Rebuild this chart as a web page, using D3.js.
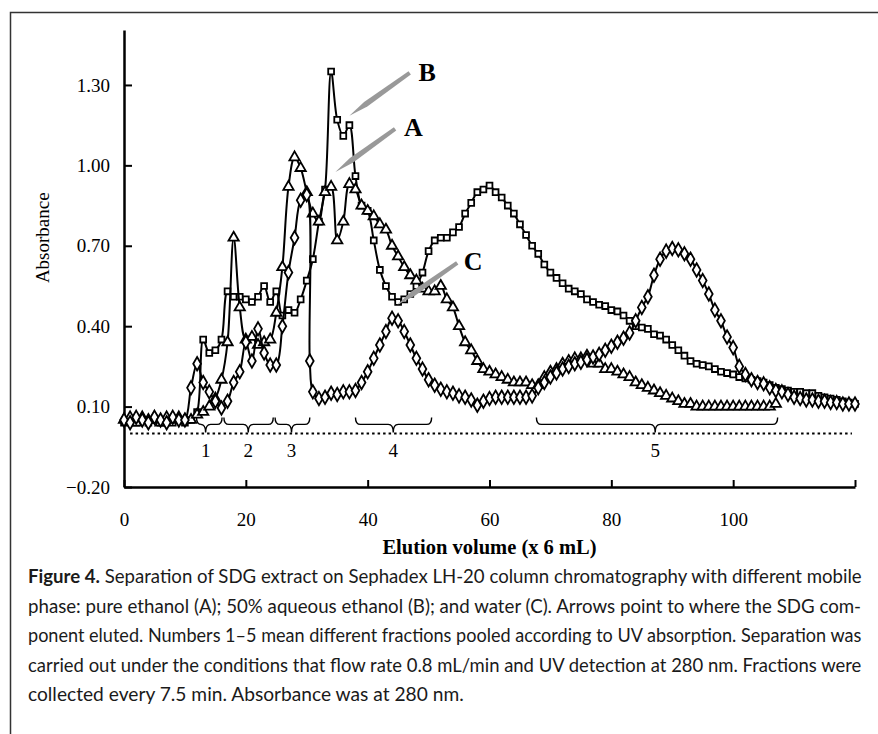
<!DOCTYPE html>
<html lang="en">
<head>
    <meta charset="UTF-8">
    <title>Figure 4 - Sephadex LH-20 elution profiles</title>
    <script src="https://d3js.org/d3.v7.min.js"></script>
    <style>
        body {
            margin: 0;
            background: #fff;
        }
        svg {
            display: block;
        }
        .axis path, .axis line {
            stroke: #000;
        }
        .axis path {
            stroke-width: 2.5;
        }
        .axis line {
            stroke-width: 2;
        }
        .axis text {
            font-family: "Liberation Serif", "Times New Roman", serif;
            font-size: 19px;
            fill: #000;
        }
        .caption {
            font-family: Lato, "Open Sans", "DejaVu Sans", sans-serif;
            font-size: 19px;
            fill: #1a1a1a;
        }
    </style>
</head>
<body>
<div id="chart"></div>
<script>
    // elution volume (x 6 mL), absorbance at 280 nm
    const seriesA = [ // pure ethanol, triangles
        [0,0.05],[1,0.06],[2,0.04],[3,0.06],[4,0.05],[5,0.06],[6,0.04],[7,0.06],[8,0.05],[9,0.06],
        [10,0.05],[11,0.05],[12,0.07],[13,0.08],[14,0.10],[15,0.13],[16,0.20],[17,0.34],[18,0.73],[19,0.47],
        [20,0.35],[21,0.36],[22,0.33],[23,0.34],[24,0.35],[25,0.45],[26,0.62],[27,0.92],[28,1.03],[29,0.99],
        [30,0.90],[31,0.82],[32,0.79],[33,0.90],[34,0.92],[35,0.72],[36,0.79],[37,0.93],[38,0.91],[39,0.85],
        [40,0.83],[41,0.81],[42,0.78],[43,0.76],[44,0.70],[45,0.66],[46,0.62],[47,0.59],[48,0.57],[49,0.54],
        [50,0.53],[51,0.53],[52,0.55],[53,0.50],[54,0.47],[55,0.40],[56,0.34],[57,0.31],[58,0.27],[59,0.24],
        [60,0.23],[61,0.22],[62,0.21],[63,0.20],[64,0.19],[65,0.19],[66,0.19],[67,0.18],[68,0.18],[69,0.21],
        [70,0.23],[71,0.24],[72,0.26],[73,0.27],[74,0.28],[75,0.28],[76,0.29],[77,0.26],[78,0.26],[79,0.24],
        [80,0.24],[81,0.23],[82,0.22],[83,0.21],[84,0.19],[85,0.18],[86,0.17],[87,0.16],[88,0.15],[89,0.14],
        [90,0.13],[91,0.12],[92,0.11],[93,0.11],[94,0.10],[95,0.10],[96,0.10],[97,0.10],[98,0.10],[99,0.10],
        [100,0.10],[101,0.10],[102,0.10],[103,0.10],[104,0.10],[105,0.10],[106,0.10],[107,0.11]
    ];
    const seriesB = [ // 50% aqueous ethanol, squares
        [0,0.04],[1,0.05],[2,0.04],[3,0.05],[4,0.04],[5,0.05],[6,0.04],[7,0.05],[8,0.04],[9,0.05],
        [10,0.04],[11,0.05],[12,0.08],[13,0.35],[14,0.30],[15,0.31],[16,0.35],[17,0.53],[18,0.51],[19,0.51],
        [20,0.50],[21,0.49],[22,0.51],[23,0.55],[24,0.49],[25,0.53],[26,0.44],[27,0.46],[28,0.45],[29,0.50],
        [30,0.57],[31,0.65],[32,0.79],[33,0.91],[34,1.35],[35,1.17],[36,1.11],[37,1.15],[38,0.96],[39,0.85],
        [40,0.83],[41,0.72],[42,0.61],[43,0.55],[44,0.51],[45,0.49],[46,0.50],[47,0.52],[48,0.55],[49,0.60],
        [50,0.68],[51,0.72],[52,0.73],[53,0.73],[54,0.75],[55,0.77],[56,0.82],[57,0.86],[58,0.90],[59,0.91],
        [60,0.925],[61,0.90],[62,0.88],[63,0.85],[64,0.82],[65,0.78],[66,0.74],[67,0.70],[68,0.67],[69,0.63],
        [70,0.60],[71,0.58],[72,0.56],[73,0.54],[74,0.53],[75,0.52],[76,0.50],[77,0.49],[78,0.48],[79,0.475],
        [80,0.46],[81,0.455],[82,0.44],[83,0.42],[84,0.40],[85,0.395],[86,0.39],[87,0.37],[88,0.365],[89,0.35],
        [90,0.33],[91,0.31],[92,0.29],[93,0.27],[94,0.26],[95,0.255],[96,0.25],[97,0.24],[98,0.23],[99,0.225],
        [100,0.22],[101,0.21],[102,0.205],[103,0.20],[104,0.195],[105,0.19],[106,0.18],[107,0.17],[108,0.165],[109,0.16],
        [110,0.155],[111,0.155],[112,0.15],[113,0.15],[114,0.14],[115,0.135],[116,0.13],[117,0.125],[118,0.12],[119,0.115],
        [120,0.11]
    ];
    const seriesC = [ // water, diamonds
        [0,0.05],[1,0.04],[2,0.06],[3,0.05],[4,0.04],[5,0.06],[6,0.05],[7,0.04],[8,0.06],[9,0.05],
        [10,0.05],[11,0.17],[12,0.26],[13,0.19],[14,0.155],[15,0.12],[16,0.095],[17,0.12],[18,0.19],[19,0.23],
        [20,0.34],[21,0.27],[22,0.39],[23,0.30],[24,0.255],[25,0.255],[26,0.40],[27,0.60],[28,0.73],[29,0.87],
        [30,0.89],[30.5,0.27],[31,0.155],[32,0.13],[33,0.135],[34,0.15],[35,0.145],[36,0.155],[37,0.155],[38,0.16],
        [39,0.19],[40,0.23],[41,0.28],[42,0.33],[43,0.38],[44,0.43],[45,0.42],[46,0.38],[47,0.33],[48,0.28],
        [49,0.24],[50,0.20],[51,0.18],[52,0.165],[53,0.155],[54,0.15],[55,0.14],[56,0.135],[57,0.125],[58,0.105],
        [59,0.12],[60,0.13],[61,0.135],[62,0.135],[63,0.135],[64,0.135],[65,0.135],[66,0.135],[67,0.14],[68,0.17],
        [69,0.19],[70,0.21],[71,0.225],[72,0.24],[73,0.25],[74,0.26],[75,0.265],[76,0.275],[77,0.285],[78,0.295],
        [79,0.31],[80,0.325],[81,0.34],[82,0.355],[83,0.375],[84,0.42],[85,0.47],[86,0.51],[87,0.59],[88,0.65],
        [89,0.68],[90,0.69],[91,0.685],[92,0.67],[93,0.65],[94,0.61],[95,0.57],[96,0.52],[97,0.46],[98,0.42],
        [99,0.36],[100,0.32],[101,0.25],[102,0.22],[103,0.20],[104,0.19],[105,0.185],[106,0.17],[107,0.16],[108,0.155],
        [109,0.145],[110,0.135],[111,0.13],[112,0.125],[113,0.125],[114,0.12],[115,0.12],[116,0.115],[117,0.115],[118,0.11],
        [119,0.11],[120,0.11]
    ];

    const xTicks = [0, 20, 40, 60, 80, 100, 120];
    const yTicks = [-0.20, 0.10, 0.40, 0.70, 1.00, 1.30];

    // pooled fractions: [start, end, label position, label]
    const fractions = [
        [11.9, 16.1, 13.4, "1"],
        [16.4, 24.5, 20.4, "2"],
        [24.8, 30.5, 27.5, "3"],
        [38.0, 50.5, 44.2, "4"],
        [67.7, 107.3, 87.2, "5"]
    ];

    // SDG arrows: label, tail [x, y], tip [x, y], label anchor [x, y]
    const arrows = [
        ["B", [46.9, 1.345], [37.0, 1.185], [49.75, 1.315]],
        ["A", [44.5, 1.136], [34.7, 0.975], [47.5, 1.11]],
        ["C", [54.7, 0.636], [44.8, 0.479], [57.3, 0.61]]
    ];

    const captionLines = [
        " Separation of SDG extract on Sephadex LH-20 column chromatography with different mobile",
        "phase: pure ethanol (A); 50% aqueous ethanol (B); and water (C). Arrows point to where the SDG com-",
        "ponent eluted. Numbers 1\u20135 mean different fractions pooled according to UV absorption. Separation was",
        "carried out under the conditions that flow rate 0.8 mL/min and UV detection at 280 nm. Fractions were",
        "collected every 7.5 min. Absorbance was at 280 nm."
    ];
    const captionWidths = [834, 834, 834, 834, 436];

    const W = 878, H = 734;
    const svg = d3.select("#chart").append("svg")
        .attr("width", W)
        .attr("height", H);

    // figure frame (left and top rules)
    svg.append("path")
        .attr("d", `M10.5,${H}V12.5H${W}`)
        .attr("fill", "none")
        .attr("stroke", "#333")
        .attr("stroke-width", 1.5);

    const x = d3.scaleLinear().domain([0, 120]).range([124, 855]);
    const y = d3.scaleLinear().domain([-0.2, 1.505]).range([487, 30]);

    // axes
    svg.append("g")
        .attr("class", "axis")
        .attr("transform", `translate(0,${y(-0.2)})`)
        .call(d3.axisBottom(x)
            .tickValues(xTicks)
            .tickSizeInner(-7)
            .tickSizeOuter(0)
            .tickPadding(26)
            .tickFormat(d => d <= 100 ? d : ""));

    svg.append("g")
        .attr("class", "axis")
        .attr("transform", `translate(${x(0)},0)`)
        .call(d3.axisLeft(y)
            .tickValues(yTicks)
            .tickSizeInner(-8)
            .tickSizeOuter(0)
            .tickPadding(14)
            .tickFormat(d => d3.format(".2f")(d).replace("-", "\u2212")));

    // axis titles
    svg.append("text")
        .attr("transform", `translate(49,${y(0.73)}) rotate(-90)`)
        .attr("text-anchor", "middle")
        .attr("font-family", "Liberation Serif, Times New Roman, serif")
        .attr("font-size", 19)
        .text("Absorbance");

    svg.append("text")
        .attr("x", (x(0) + x(120)) / 2)
        .attr("y", 554)
        .attr("text-anchor", "middle")
        .attr("font-family", "Liberation Serif, Times New Roman, serif")
        .attr("font-size", 20.5)
        .attr("font-weight", "bold")
        .text("Elution volume (x 6 mL)");

    // dotted zero line
    svg.append("line")
        .attr("x1", x(1))
        .attr("x2", x(119.5))
        .attr("y1", y(0))
        .attr("y2", y(0))
        .attr("stroke", "#000")
        .attr("stroke-width", 2)
        .attr("stroke-dasharray", "2.5,3");

    // braces for pooled fractions
    function bracePath(x1, x2, xm, y0) {
        const top = y0 - 16, mid = y0 - 9, tip = y0 - 1, r = 5;
        return `M${x1},${top} Q${x1},${mid} ${x1 + r},${mid} L${xm - r},${mid} Q${xm},${mid} ${xm},${tip}` +
               ` Q${xm},${mid} ${xm + r},${mid} L${x2 - r},${mid} Q${x2},${mid} ${x2},${top}`;
    }
    const braces = svg.append("g");
    braces.selectAll("path")
        .data(fractions)
        .enter().append("path")
        .attr("d", d => bracePath(x(d[0]), x(d[1]), x(d[2]), y(0)))
        .attr("fill", "none")
        .attr("stroke", "#000")
        .attr("stroke-width", 1.4);
    braces.selectAll("text")
        .data(fractions)
        .enter().append("text")
        .attr("x", d => x(d[2]))
        .attr("y", y(0) + 24)
        .attr("text-anchor", "middle")
        .attr("font-family", "Liberation Serif, Times New Roman, serif")
        .attr("font-size", 19)
        .text(d => d[3]);

    // series
    const line = d3.line()
        .x(d => x(d[0]))
        .y(d => y(d[1]))
        .curve(d3.curveCatmullRom.alpha(0.5));

    const series = [
        { data: seriesB, symbol: d3.symbolSquare, size: 34 },
        { data: seriesA, symbol: d3.symbolTriangle, size: 46 },
        { data: seriesC, symbol: d3.symbolDiamond, size: 52 }
    ];

    series.forEach(s => {
        const g = svg.append("g");
        g.append("path")
            .datum(s.data)
            .attr("d", line)
            .attr("fill", "none")
            .attr("stroke", "#000")
            .attr("stroke-width", 2);
        g.selectAll(".pt")
            .data(s.data)
            .enter().append("path")
            .attr("class", "pt")
            .attr("transform", d => `translate(${x(d[0])},${y(d[1])})`)
            .attr("d", d3.symbol().type(s.symbol).size(s.size))
            .attr("fill", "#fff")
            .attr("stroke", "#000")
            .attr("stroke-width", 1.8);
    });

    // SDG arrows
    function arrowShape(t, p) {
        const dx = p[0] - t[0], dy = p[1] - t[1];
        const len = Math.hypot(dx, dy);
        const ux = dx / len, uy = dy / len, nx = -uy, ny = ux;
        const head = 20, wTail = 2, wHead = 2.8;
        const bx = p[0] - ux * head, by = p[1] - uy * head;
        return [
            [t[0] + nx * wTail, t[1] + ny * wTail],
            [bx + nx * wHead, by + ny * wHead],
            p,
            [bx - nx * wHead, by - ny * wHead],
            [t[0] - nx * wTail, t[1] - ny * wTail]
        ];
    }
    const ann = svg.append("g");
    ann.selectAll("polygon")
        .data(arrows)
        .enter().append("polygon")
        .attr("points", d => arrowShape([x(d[1][0]), y(d[1][1])], [x(d[2][0]), y(d[2][1])]).join(" "))
        .attr("fill", "#999");
    ann.selectAll("text")
        .data(arrows)
        .enter().append("text")
        .attr("x", d => x(d[3][0]))
        .attr("y", d => y(d[3][1]))
        .attr("text-anchor", "middle")
        .attr("font-family", "Liberation Serif, Times New Roman, serif")
        .attr("font-size", 26)
        .attr("font-weight", "bold")
        .text(d => d[0]);

    // caption: each line squeezed/justified horizontally to the width it has in print
    const cap = svg.append("g").attr("class", "caption");
    captionLines.forEach((txt, i) => {
        const baseY = 583 + i * 29.5;
        const t = cap.append("text")
            .attr("x", 0)
            .attr("y", 0);
        if (i === 0) {
            t.append("tspan").attr("font-weight", "bold").text("Figure 4.");
        }
        t.append("tspan").text(txt);
        const natural = t.node().getComputedTextLength();
        const sx = captionWidths[i] / natural;
        t.attr("transform", `translate(28,${baseY}) scale(${sx},1)`);
    });
</script>
</body>
</html>
